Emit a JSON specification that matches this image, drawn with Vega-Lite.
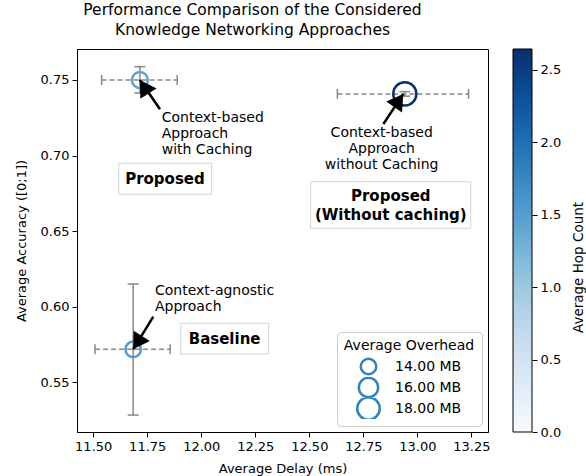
{
  "$schema": "https://vega.github.io/schema/vega-lite/v6.json",
  "width": 411,
  "height": 383,
  "autosize": {"type": "none"},
  "padding": {"left": 77, "top": 49, "right": 98, "bottom": 44},
  "title": {
    "text": ["Performance Comparison of the Considered", "Knowledge Networking Approaches"],
    "font": "DejaVu Sans", "fontSize": 15.5, "fontWeight": "normal", "color": "black",
    "lineHeight": 20, "offset": 8, "dx": -30, "anchor": "middle"
  },
  "datasets": {
    "points": [
      {"name": "cache", "delay": 11.716, "acc": 0.750, "dmin": 11.539, "dmax": 11.889, "amin": 0.7414, "amax": 0.7588, "hop": 1.45, "overhead": 14.2},
      {"name": "nocache", "delay": 12.942, "acc": 0.7408, "dmin": 12.63, "dmax": 13.237, "amin": 0.7393, "amax": 0.7423, "hop": 2.64, "overhead": 18.4},
      {"name": "agnostic", "delay": 11.685, "acc": 0.5718, "dmin": 11.508, "dmax": 11.856, "amin": 0.5283, "amax": 0.615, "hop": 1.55, "overhead": 14.0}
    ],
    "arrows": [
      {"tx": 11.809, "ty": 0.7306, "hx": 11.716, "hy": 0.750, "angle": 327.7},
      {"tx": 12.843, "ty": 0.7209, "hx": 12.935, "hy": 0.7408, "angle": 34.9},
      {"tx": 11.778, "ty": 0.5934, "hx": 11.685, "hy": 0.5718, "angle": 212.3}
    ],
    "notes": [
      {"kind": "left", "text": ["Context-based", "Approach", "with Caching"], "x": 11.817, "y": 0.7249},
      {"kind": "center", "text": ["Context-based", "Approach", "without Caching"], "x": 12.835, "y": 0.7151},
      {"kind": "left", "text": ["Context-agnostic", "Approach"], "x": 11.786, "y": 0.6106}
    ],
    "labels": [
      {"text": ["Proposed"], "x": 11.832, "y": 0.6845, "x1": 11.618, "x2": 12.048, "y1": 0.6744, "y2": 0.6949},
      {"text": ["Proposed", "(Without caching)"], "x": 12.877, "y": 0.6735, "x1": 12.506, "x2": 13.247, "y1": 0.6519, "y2": 0.6827},
      {"text": ["Baseline"], "x": 12.108, "y": 0.5788, "x1": 11.905, "x2": 12.312, "y1": 0.5687, "y2": 0.589}
    ]
  },
  "resolve": {"scale": {"y": "independent"}},
  "layer": [
    {
      "layer": [
        {
          "data": {"name": "labels"},
          "mark": {"type": "rect", "fill": "white", "stroke": "#d4d4d4", "strokeWidth": 1},
          "encoding": {
            "x": {"field": "x1", "type": "quantitative", "title": "Average Delay (ms)",
              "scale": {"domain": [11.425, 13.327], "nice": false, "zero": false},
              "axis": {"values": [11.5, 11.75, 12, 12.25, 12.5, 12.75, 13, 13.25], "format": ".2f", "titlePadding": 9, "labelPadding": 3}},
            "x2": {"field": "x2", "title": "Average Delay (ms)"},
            "y": {"field": "y1", "type": "quantitative", "title": "Average Accuracy ([0;1])",
              "scale": {"domain": [0.5171, 0.7705], "nice": false, "zero": false},
              "axis": {"orient": "left", "values": [0.55, 0.6, 0.65, 0.7, 0.75], "format": ".2f", "titlePadding": 12, "labelPadding": 3}},
            "y2": {"field": "y2", "title": "Average Accuracy ([0;1])"}
          }
        },
        {
          "data": {"name": "points"},
          "mark": {"type": "rule", "color": "#888888", "strokeWidth": 1.5, "strokeDash": [5, 3]},
          "encoding": {
            "x": {"field": "dmin", "type": "quantitative", "title": "Average Delay (ms)", "scale": {"domain": [11.425, 13.327], "nice": false, "zero": false}},
            "x2": {"field": "dmax", "title": "Average Delay (ms)"},
            "y": {"field": "acc", "type": "quantitative", "title": "Average Accuracy ([0;1])", "scale": {"domain": [0.5171, 0.7705], "nice": false, "zero": false}}
          }
        },
        {
          "data": {"name": "points"},
          "mark": {"type": "tick", "orient": "vertical", "size": 10, "thickness": 1.5, "color": "#888888", "opacity": 1},
          "encoding": {
            "x": {"field": "dmin", "type": "quantitative", "title": "Average Delay (ms)", "scale": {"domain": [11.425, 13.327], "nice": false, "zero": false}},
            "y": {"field": "acc", "type": "quantitative", "title": "Average Accuracy ([0;1])", "scale": {"domain": [0.5171, 0.7705], "nice": false, "zero": false}}
          }
        },
        {
          "data": {"name": "points"},
          "mark": {"type": "tick", "orient": "vertical", "size": 10, "thickness": 1.5, "color": "#888888", "opacity": 1},
          "encoding": {
            "x": {"field": "dmax", "type": "quantitative", "title": "Average Delay (ms)", "scale": {"domain": [11.425, 13.327], "nice": false, "zero": false}},
            "y": {"field": "acc", "type": "quantitative", "title": "Average Accuracy ([0;1])", "scale": {"domain": [0.5171, 0.7705], "nice": false, "zero": false}}
          }
        },
        {
          "data": {"name": "points"},
          "mark": {"type": "rule", "color": "#888888", "strokeWidth": 1.5},
          "encoding": {
            "x": {"field": "delay", "type": "quantitative", "title": "Average Delay (ms)", "scale": {"domain": [11.425, 13.327], "nice": false, "zero": false}},
            "y": {"field": "amin", "type": "quantitative", "title": "Average Accuracy ([0;1])", "scale": {"domain": [0.5171, 0.7705], "nice": false, "zero": false}},
            "y2": {"field": "amax", "title": "Average Accuracy ([0;1])"}
          }
        },
        {
          "data": {"name": "points"},
          "mark": {"type": "tick", "orient": "horizontal", "size": 11, "thickness": 1.5, "color": "#888888", "opacity": 1},
          "encoding": {
            "x": {"field": "delay", "type": "quantitative", "title": "Average Delay (ms)", "scale": {"domain": [11.425, 13.327], "nice": false, "zero": false}},
            "y": {"field": "amin", "type": "quantitative", "title": "Average Accuracy ([0;1])", "scale": {"domain": [0.5171, 0.7705], "nice": false, "zero": false}}
          }
        },
        {
          "data": {"name": "points"},
          "mark": {"type": "tick", "orient": "horizontal", "size": 11, "thickness": 1.5, "color": "#888888", "opacity": 1},
          "encoding": {
            "x": {"field": "delay", "type": "quantitative", "title": "Average Delay (ms)", "scale": {"domain": [11.425, 13.327], "nice": false, "zero": false}},
            "y": {"field": "amax", "type": "quantitative", "title": "Average Accuracy ([0;1])", "scale": {"domain": [0.5171, 0.7705], "nice": false, "zero": false}}
          }
        },
        {
          "data": {"name": "points"},
          "mark": {"type": "point", "shape": "circle", "filled": false, "strokeWidth": 2.5, "opacity": 1},
          "encoding": {
            "x": {"field": "delay", "type": "quantitative", "title": "Average Delay (ms)", "scale": {"domain": [11.425, 13.327], "nice": false, "zero": false}},
            "y": {"field": "acc", "type": "quantitative", "title": "Average Accuracy ([0;1])", "scale": {"domain": [0.5171, 0.7705], "nice": false, "zero": false}},
            "color": {
              "field": "hop", "type": "quantitative",
              "scale": {
                "domain": [0, 0.3306, 0.6613, 0.9919, 1.3225, 1.6531, 1.9838, 2.3144, 2.645],
                "range": ["#f7fbff", "#deebf7", "#c6dbef", "#9ecae1", "#6baed6", "#4292c6", "#2171b5", "#08519c", "#08306b"],
                "interpolate": "rgb"
              },
              "legend": {
                "title": null, "orient": "none", "legendX": 436, "legendY": 0,
                "direction": "vertical", "gradientLength": 383, "gradientThickness": 19,
                "gradientStrokeColor": "black", "gradientStrokeWidth": 1,
                "values": [0, 2.645], "labelExpr": "''", "labelOpacity": 0, "padding": 0
              }
            },
            "size": {
              "field": "overhead", "type": "quantitative",
              "scale": {"domain": [14, 18], "range": [240, 506], "zero": false},
              "legend": {
                "title": "Average Overhead", "orient": "bottom-right", "offset": 6,
                "values": [14, 16, 18], "labelExpr": "format(datum.value, '.2f') + ' MB'",
                "strokeColor": "#cccccc", "fillColor": "white", "padding": 7, "cornerRadius": 4,
                "titleAnchor": "middle", "titleFontSize": 14, "titleFontWeight": "normal", "titlePadding": 3,
                "labelFontSize": 14, "labelOffset": 14,
                "symbolType": "circle", "symbolStrokeColor": "#3282be", "symbolFillColor": "transparent",
                "symbolStrokeWidth": 2.5, "clipHeight": 21, "rowPadding": 0
              }
            }
          }
        },
        {
          "data": {"name": "arrows"},
          "mark": {"type": "rule", "color": "black", "strokeWidth": 2.5},
          "encoding": {
            "x": {"field": "tx", "type": "quantitative", "title": "Average Delay (ms)", "scale": {"domain": [11.425, 13.327], "nice": false, "zero": false}},
            "x2": {"field": "hx", "title": "Average Delay (ms)"},
            "y": {"field": "ty", "type": "quantitative", "title": "Average Accuracy ([0;1])", "scale": {"domain": [0.5171, 0.7705], "nice": false, "zero": false}},
            "y2": {"field": "hy", "title": "Average Accuracy ([0;1])"}
          }
        },
        {
          "data": {"name": "arrows"},
          "mark": {"type": "point", "shape": "M0,0L-0.6,1L0.6,1Z", "filled": true, "color": "black", "opacity": 1, "size": 1024, "strokeWidth": 0},
          "encoding": {
            "x": {"field": "hx", "type": "quantitative", "title": "Average Delay (ms)", "scale": {"domain": [11.425, 13.327], "nice": false, "zero": false}},
            "y": {"field": "hy", "type": "quantitative", "title": "Average Accuracy ([0;1])", "scale": {"domain": [0.5171, 0.7705], "nice": false, "zero": false}},
            "angle": {"field": "angle", "type": "quantitative", "scale": null}
          }
        },
        {
          "data": {"name": "notes"},
          "transform": [{"filter": "datum.kind == 'left'"}],
          "mark": {"type": "text", "align": "left", "baseline": "middle", "fontSize": 14, "lineHeight": 16, "color": "black"},
          "encoding": {
            "x": {"field": "x", "type": "quantitative", "title": "Average Delay (ms)", "scale": {"domain": [11.425, 13.327], "nice": false, "zero": false}},
            "y": {"field": "y", "type": "quantitative", "title": "Average Accuracy ([0;1])", "scale": {"domain": [0.5171, 0.7705], "nice": false, "zero": false}},
            "text": {"field": "text"}
          }
        },
        {
          "data": {"name": "notes"},
          "transform": [{"filter": "datum.kind == 'center'"}],
          "mark": {"type": "text", "align": "center", "baseline": "middle", "fontSize": 14, "lineHeight": 16, "color": "black"},
          "encoding": {
            "x": {"field": "x", "type": "quantitative", "title": "Average Delay (ms)", "scale": {"domain": [11.425, 13.327], "nice": false, "zero": false}},
            "y": {"field": "y", "type": "quantitative", "title": "Average Accuracy ([0;1])", "scale": {"domain": [0.5171, 0.7705], "nice": false, "zero": false}},
            "text": {"field": "text"}
          }
        },
        {
          "data": {"name": "labels"},
          "mark": {"type": "text", "align": "center", "baseline": "middle", "fontSize": 15, "fontWeight": "bold", "lineHeight": 19, "color": "black"},
          "encoding": {
            "x": {"field": "x", "type": "quantitative", "title": "Average Delay (ms)", "scale": {"domain": [11.425, 13.327], "nice": false, "zero": false}},
            "y": {"field": "y", "type": "quantitative", "title": "Average Accuracy ([0;1])", "scale": {"domain": [0.5171, 0.7705], "nice": false, "zero": false}},
            "text": {"field": "text"}
          }
        }
      ]
    },
    {
      "data": {"name": "points"},
      "mark": {"type": "point", "opacity": 0},
      "encoding": {
        "y": {
          "field": "hop", "type": "quantitative", "title": "Average Hop Count",
          "scale": {"domain": [0, 2.645], "nice": false, "zero": false},
          "axis": {
            "orient": "right", "offset": 44, "values": [0, 0.5, 1, 1.5, 2, 2.5], "format": ".1f",
            "domain": false, "tickSize": 5, "labelPadding": 3,
            "titleAngle": 270, "titleX": 46, "titleY": 218, "titleAlign": "center", "titleBaseline": "middle",
            "titleFontSize": 13.5
          }
        }
      }
    }
  ],
  "config": {
    "font": "DejaVu Sans",
    "view": {"stroke": "black", "strokeWidth": 1},
    "axis": {
      "labelFont": "DejaVu Sans", "titleFont": "DejaVu Sans",
      "labelFontSize": 13, "titleFontSize": 13, "titleFontWeight": "normal",
      "labelColor": "black", "titleColor": "black", "domainColor": "black", "tickColor": "black",
      "grid": false, "tickSize": 5
    },
    "legend": {"labelFont": "DejaVu Sans", "titleFont": "DejaVu Sans", "labelColor": "black", "titleColor": "black"}
  }
}
